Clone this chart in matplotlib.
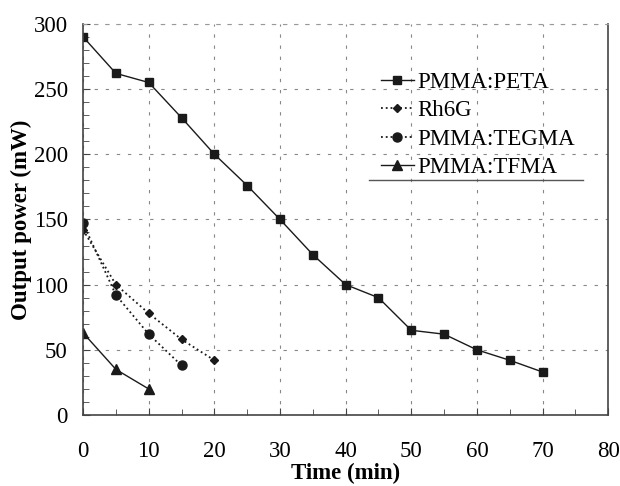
import numpy as np
import matplotlib
matplotlib.use("Agg")
import matplotlib.pyplot as plt
from matplotlib.ticker import MultipleLocator

plt.rcParams['font.family'] = ['Liberation Serif', 'DejaVu Serif']

# данные
t_peta = [0, 5, 10, 15, 20, 25, 30, 35, 40, 45, 50, 55, 60, 65, 70]
p_peta = [290, 262, 255, 228, 200, 176, 150, 123, 100, 90, 65, 62, 50, 42, 33]

t_rh6g = [0, 5, 10, 15, 20]
p_rh6g = [142, 100, 78, 58, 42]

t_tegma = [0, 5, 10, 15]
p_tegma = [147, 92, 62, 38]

t_tfma = [0, 5, 10]
p_tfma = [63, 35, 20]

fig = plt.figure(figsize=(6.2, 4.86), dpi=100)
ax = fig.add_axes([0.134, 0.146, 0.847, 0.805])

ax.plot(t_peta, p_peta, '-', color='#1a1a1a', lw=1, marker='s', ms=6, label='PMMA:PETA')
ax.plot(t_rh6g, p_rh6g, ':', color='#1a1a1a', lw=1.3, marker='D', ms=4.3, label='Rh6G')
ax.plot(t_tegma, p_tegma, ':', color='#1a1a1a', lw=1.3, marker='o', ms=6.5, label='PMMA:TEGMA')
ax.plot(t_tfma, p_tfma, '-', color='#1a1a1a', lw=1, marker='^', ms=6.5, label='PMMA:TFMA')

ax.set_xlim(0, 80)
ax.set_ylim(0, 300)
ax.xaxis.set_major_locator(MultipleLocator(10))
ax.xaxis.set_minor_locator(MultipleLocator(5))
ax.yaxis.set_major_locator(MultipleLocator(50))
ax.yaxis.set_minor_locator(MultipleLocator(10))
ax.tick_params(which='both', direction='in', color='#444444')
ax.tick_params(which='major', length=5, labelsize=16.5)
ax.tick_params(which='minor', length=4)
ax.tick_params(axis='x', which='major', pad=19)
ax.tick_params(axis='y', which='major', pad=11)

ax.grid(True, which='major', linestyle=(0, (3, 7)), color='#888888', lw=0.8)
ax.spines['top'].set_color('#999999')
ax.spines['top'].set_linestyle((0, (3, 7)))
for s in ['left', 'bottom', 'right']:
    ax.spines[s].set_color('#444444')
    ax.spines[s].set_linewidth(1.2)

ax.set_xlabel('Time (min)', fontsize=16.5, fontweight='bold', labelpad=0)
ax.set_ylabel('Output power (mW)', fontsize=16.5, fontweight='bold', labelpad=1)

leg = ax.legend(loc='upper left', bbox_to_anchor=(0.567, 0.878), frameon=False,
                fontsize=16.5, handlelength=1.45, handletextpad=0.15,
                labelspacing=0.33, borderaxespad=0, borderpad=0)
# линия под легендой
ax.plot([0.545, 0.952], [0.602, 0.602], transform=ax.transAxes, color='#555555',
        lw=1, clip_on=False)

fig.savefig('out.png', dpi=100)
